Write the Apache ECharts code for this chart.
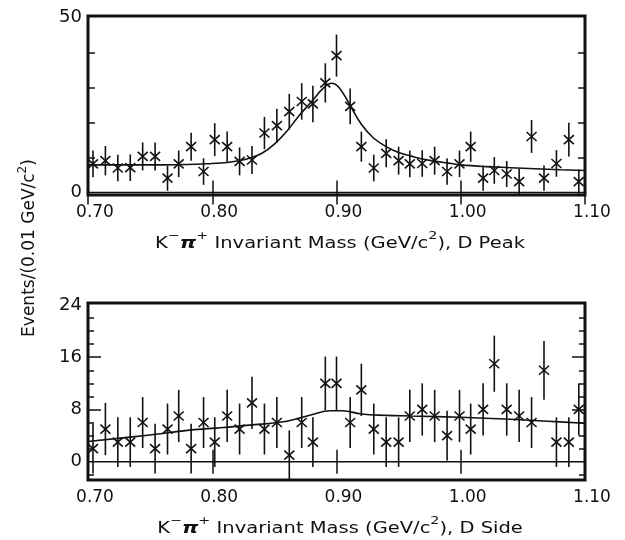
<!DOCTYPE html>
<html>
<head>
<meta charset="utf-8">
<script src="https://cdn.jsdelivr.net/npm/echarts@6/dist/echarts.min.js"></script>
<style>
  html, body { margin: 0; padding: 0; background: #fff; }
  #chart { width: 625px; height: 540px; }
</style>
</head>
<body>
<div id="chart"></div>
<script>
// bin positions (GeV/c^2), shared by both panels
const masses = [0.704, 0.714, 0.724, 0.734, 0.744, 0.754, 0.764, 0.773, 0.783, 0.793,
  0.802, 0.812, 0.822, 0.832, 0.842, 0.852, 0.862, 0.872, 0.881, 0.891,
  0.900, 0.911, 0.920, 0.930, 0.940, 0.950, 0.959, 0.969, 0.979, 0.989,
  0.999, 1.008, 1.018, 1.027, 1.037, 1.047, 1.057, 1.067, 1.077, 1.087, 1.095];

// D peak panel
const peakCounts = [8.2, 9.1, 7.0, 7.1, 10.3, 10.3, 4.1, 8.2, 13.1, 6.0,
  15.1, 13.1, 8.9, 9.3, 17.0, 19.1, 23.1, 26.0, 25.3, 31.3,
  39.1, 24.6, 13.1, 7.0, 11.2, 9.1, 8.2, 8.3, 9.1, 6.0,
  8.2, 13.1, 4.1, 6.3, 5.3, 3.1, 16.0, 4.1, 8.3, 15.1, 3.1];
const peakErrors = [3.8, 4.2, 3.8, 3.8, 4.0, 4.0, 3.6, 3.8, 4.0, 3.8,
  4.7, 4.3, 4.0, 4.0, 4.6, 4.8, 5.1, 5.2, 5.2, 5.6,
  6.0, 5.1, 4.3, 3.8, 4.0, 4.0, 3.8, 3.8, 4.0, 3.8,
  3.8, 4.3, 3.6, 3.8, 3.7, 3.6, 4.7, 3.6, 3.8, 4.8, 3.5];
const peakFit = [[0.70, 7.9], [0.72, 7.9], [0.74, 7.9], [0.76, 7.9], [0.78, 8.0],
  [0.80, 8.3], [0.81, 8.5], [0.82, 9.0], [0.83, 9.8], [0.84, 11.2], [0.85, 13.8],
  [0.86, 17.5], [0.87, 22.0], [0.88, 26.0], [0.89, 30.0], [0.896, 31.2], [0.902, 30.0],
  [0.91, 25.5], [0.92, 19.5], [0.93, 15.5], [0.94, 13.1], [0.95, 11.4], [0.96, 10.4],
  [0.97, 9.5], [0.98, 8.9], [0.99, 8.4], [1.00, 7.9], [1.02, 7.4], [1.04, 7.1],
  [1.06, 6.8], [1.08, 6.5], [1.10, 6.3]];

// D side panel
const sideCounts = [2, 5, 3, 3, 6, 2, 5, 7, 2, 6,
  3, 7, 5, 9, 5, 6, 1, 6, 3, 12,
  12, 6, 11, 5, 3, 3, 7, 8, 7, 4,
  7, 5, 8, 15, 8, 7, 6, 14, 3, 3, 8];
const sideErrors = [3.8, 4.0, 3.8, 3.8, 3.9, 3.8, 3.9, 4.0, 3.8, 3.9,
  3.8, 4.0, 3.9, 4.0, 3.9, 3.9, 3.8, 3.9, 3.8, 4.1,
  4.1, 3.9, 4.0, 3.9, 3.8, 3.8, 4.0, 4.0, 4.0, 3.8,
  4.0, 3.9, 4.0, 4.3, 4.0, 4.0, 3.9, 4.5, 3.8, 3.8, 4.0];
const sideFit = [[0.70, 3.1], [0.75, 4.1], [0.78, 4.8], [0.80, 5.1], [0.83, 5.6],
  [0.86, 6.2], [0.88, 7.2], [0.895, 7.8], [0.905, 7.8], [0.92, 7.3], [0.94, 7.1],
  [0.96, 7.0], [1.00, 6.8], [1.04, 6.5], [1.07, 6.2], [1.10, 5.9]];

const peakTicks = [0, 50];
const sideTicks = [0, 8, 16, 24];

const FONT = 'DejaVu Sans';
const INK = '#111';

// error bar + x mark
function renderPoint(params, api) {
  const x = api.value(0), y = api.value(1), e = api.value(2);
  const c = api.coord([x, y]);
  const hi = api.coord([x, y + e]);
  const lo = api.coord([x, y - e]);
  const sx = 5, sy = 4.5;
  const st = { stroke: INK, lineWidth: 1.6 };
  return {
    type: 'group',
    children: [
      { type: 'line', shape: { x1: c[0], y1: hi[1], x2: c[0], y2: lo[1] }, style: st },
      { type: 'line', shape: { x1: c[0] - sx, y1: c[1] - sy, x2: c[0] + sx, y2: c[1] + sy }, style: st },
      { type: 'line', shape: { x1: c[0] - sx, y1: c[1] + sy, x2: c[0] + sx, y2: c[1] - sy }, style: st }
    ]
  };
}

function xAxes(gridIndex) {
  const base = {
    type: 'value', gridIndex, min: 0.70, max: 1.10, interval: 0.1,
    axisLine: { show: false }, splitLine: { show: false },
    axisTick: { inside: true, length: 12, lineStyle: { color: INK, width: 1.5 } }
  };
  return [
    Object.assign({}, base, {
      position: 'bottom',
      axisLabel: {
        margin: 9, color: INK, fontFamily: FONT, fontSize: 17, padding: [0, 0, 0, 14],
        formatter: v => v.toFixed(2)
      }
    }),
    Object.assign({}, base, { position: 'top', axisLabel: { show: false } })
  ];
}

function yAxis(gridIndex, min, max, position, tickValues, tickLen, labelValues) {
  return {
    type: 'value', gridIndex, min, max, position,
    axisLine: { show: false }, splitLine: { show: false },
    axisTick: { inside: true, length: tickLen, customValues: tickValues, lineStyle: { color: INK, width: 1.5 } },
    axisLabel: labelValues
      ? { show: true, customValues: labelValues, margin: 6, color: INK, fontFamily: FONT, fontSize: 18 }
      : { show: false }
  };
}

const chart = echarts.init(document.getElementById('chart'), null, { renderer: 'canvas' });

const titleRich = {
  a: { fontFamily: FONT, fontSize: 15, lineHeight: 26, fill: INK },
  s: { fontFamily: FONT, fontSize: 11, lineHeight: 12, verticalAlign: 'top', fill: INK },
  p: { fontFamily: FONT, fontSize: 16, lineHeight: 26, fontStyle: 'italic', fontWeight: 'bold', fill: INK }
};
const ytitleRich = {
  a: { fontFamily: FONT, fontSize: 17, lineHeight: 26, fill: INK },
  s: { fontFamily: FONT, fontSize: 12, lineHeight: 12, verticalAlign: 'top', fill: INK }
};

chart.setOption({
  animation: false,
  backgroundColor: '#fff',
  grid: [
    { left: 88, width: 497, top: 16, height: 179, show: true, borderColor: INK, borderWidth: 3, backgroundColor: 'transparent' },
    { left: 88, width: 497, top: 303, height: 177, show: true, borderColor: INK, borderWidth: 3, backgroundColor: 'transparent' }
  ],
  xAxis: [...xAxes(0), ...xAxes(1)],
  yAxis: [
    yAxis(0, -0.7, 50.4, 'left', [10, 20, 30, 40], 7, peakTicks),
    yAxis(0, -0.7, 50.4, 'right', [10, 20, 30, 40], 7, null),
    yAxis(1, -2.8, 24.3, 'left', [8, 16], 13, sideTicks),
    yAxis(1, -2.8, 24.3, 'left', [-2, 2, 4, 6, 10, 12, 14, 18, 20, 22], 6, null),
    yAxis(1, -2.8, 24.3, 'right', [8, 16], 13, null),
    yAxis(1, -2.8, 24.3, 'right', [-2, 2, 4, 6, 10, 12, 14, 18, 20, 22], 6, null)
  ],
  series: [
    {
      type: 'line', xAxisIndex: 0, yAxisIndex: 0, data: [[0.70, 0], [1.10, 0]],
      showSymbol: false, lineStyle: { color: INK, width: 1.5 }, silent: true
    },
    {
      type: 'line', xAxisIndex: 0, yAxisIndex: 0, data: peakFit, smooth: 0.4,
      showSymbol: false, lineStyle: { color: INK, width: 1.6 }, silent: true
    },
    {
      type: 'custom', xAxisIndex: 0, yAxisIndex: 0, renderItem: renderPoint,
      data: masses.map((m, i) => [m, peakCounts[i], peakErrors[i]])
    },
    {
      type: 'line', xAxisIndex: 2, yAxisIndex: 2, data: [[0.70, 0], [1.10, 0]],
      showSymbol: false, lineStyle: { color: INK, width: 1.5 }, silent: true
    },
    {
      type: 'line', xAxisIndex: 2, yAxisIndex: 2, data: sideFit, smooth: 0.4,
      showSymbol: false, lineStyle: { color: INK, width: 1.6 }, silent: true
    },
    {
      type: 'custom', xAxisIndex: 2, yAxisIndex: 2, renderItem: renderPoint,
      data: masses.map((m, i) => [m, sideCounts[i], sideErrors[i]])
    }
  ],
  graphic: [
    {
      type: 'text', x: 340, y: 244, scaleX: 1.3,
      style: {
        text: '{a|K}{s|−}{p|π}{s|+}{a| Invariant Mass (GeV/c}{s|2}{a|), D Peak}',
        rich: titleRich, align: 'center', verticalAlign: 'middle'
      }
    },
    {
      type: 'text', x: 340, y: 529, scaleX: 1.3,
      style: {
        text: '{a|K}{s|−}{p|π}{s|+}{a| Invariant Mass (GeV/c}{s|2}{a|), D Side}',
        rich: titleRich, align: 'center', verticalAlign: 'middle'
      }
    },
    {
      type: 'text', x: 30, y: 248, rotation: Math.PI / 2,
      style: {
        text: '{a|Events/(0.01 GeV/c}{s|2}{a|)}',
        rich: ytitleRich, align: 'center', verticalAlign: 'middle'
      }
    }
  ]
});
</script>
</body>
</html>
